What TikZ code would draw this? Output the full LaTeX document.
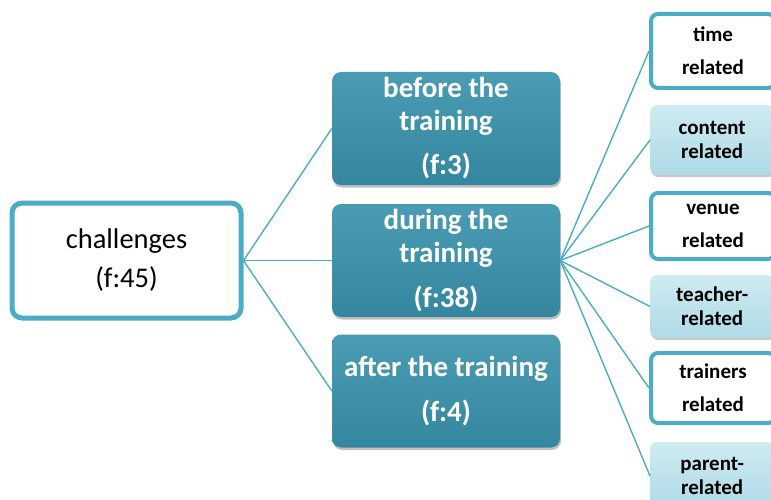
\documentclass[tikz,border=0pt]{standalone}
\usepackage{fontspec}
\setmainfont{Carlito}
\usetikzlibrary{shadows}
\definecolor{accent}{HTML}{4BACC6}
\definecolor{tealtop}{HTML}{4A9CB4}
\definecolor{tealmid}{HTML}{3A8DA6}
\definecolor{tealbot}{HTML}{3587A0}
\definecolor{paletop}{HTML}{CFEBF2}
\definecolor{palemid}{HTML}{BAE0EA}
\definecolor{palebot}{HTML}{AEDAE6}
\begin{document}
\begin{tikzpicture}[x=1pt,y=1pt,
  link/.style={draw=accent, line width=1.4pt},
  rootbox/.style={draw=accent, line width=5pt, fill=white, rounded corners=10pt,
    minimum width=229pt, minimum height=115pt, inner sep=0pt, align=center,
    font=\fontsize{28.5}{39}\selectfont},
  phasebox/.style={rounded corners=9pt, top color=tealtop, middle color=tealmid,
    bottom color=tealbot, minimum width=228pt, minimum height=113pt, inner sep=0pt,
    text=white, align=center, font=\bfseries\fontsize{29}{33}\selectfont,
    drop shadow={shadow xshift=1pt, shadow yshift=-2.5pt, opacity=0.35, fill=black!70}},
  plainbox/.style={draw=accent, line width=4pt, fill=white, rounded corners=7pt,
    minimum width=124pt, inner sep=0pt, anchor=west, align=center,
    font=\bfseries\fontsize{21}{33}\selectfont},
  palebox/.style={rounded corners=7pt, top color=paletop, middle color=palemid,
    bottom color=palebot, minimum width=124pt, inner sep=0pt, anchor=west,
    align=center, font=\bfseries\fontsize{21}{24}\selectfont,
    drop shadow={shadow xshift=1pt, shadow yshift=-2pt, opacity=0.3, fill=black!70}}
]
\useasboundingbox (0,0) rectangle (771,499);
\clip (0,0) rectangle (771,499);

% root
\node[rootbox] (root) at (126.5,238.5) {challenges\\(f:45)};

% phases of the training
\node[phasebox] (before) at (446,370.5) {before the\\training\\[11pt](f:3)};
\node[phasebox] (during) at (446,238.5) {during the\\training\\[12pt](f:38)};
\node[phasebox] (after)  at (446,108)   {after the training\\[12pt](f:4)};

% kinds of challenges during the training
\node[plainbox, minimum height=74pt] (time)     at (649,448)   {time\\related};
\node[palebox,  minimum height=70pt] (content)  at (650,359)   {content\\related};
\node[plainbox, minimum height=66pt] (venue)    at (649,273)   {venue\\related};
\node[palebox,  minimum height=63pt] (teacher)  at (650,192.5) {teacher-\\related};
\node[plainbox, minimum height=70pt] (trainers) at (649,111)   {trainers\\related};
\node[palebox,  minimum height=68pt] (parent)   at (650,23)    {parent-\\related};

% connectors
\foreach \t in {before,during,after}
  \draw[link] (root.east) -- (\t.west);
\foreach \t in {time,content,venue,teacher,trainers,parent}
  \draw[link] (during.east) -- (\t.west);
\end{tikzpicture}
\end{document}
